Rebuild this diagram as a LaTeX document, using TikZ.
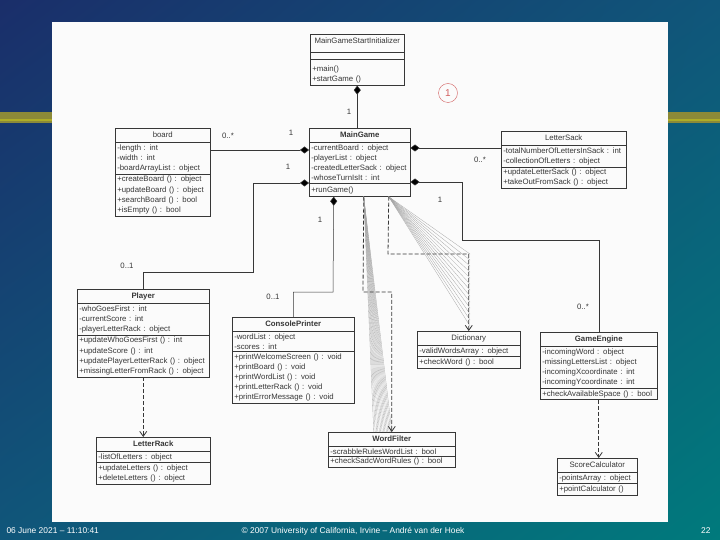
\documentclass[tikz,border=0pt]{standalone}
\usepackage{fontspec}
\setmainfont{Liberation Sans}
\usetikzlibrary{shapes.multipart,arrows.meta,shadings}
\definecolor{slidenavy}{RGB}{26,46,106}
\definecolor{slidemid}{RGB}{16,86,122}
\definecolor{slideteal}{RGB}{0,122,124}
\definecolor{barolive}{RGB}{140,138,56}
\definecolor{scanink}{RGB}{55,55,55}
\definecolor{scanpaper}{RGB}{251,251,251}
\definecolor{penred}{RGB}{210,95,95}
\newcommand\ttl[1]{\centering\rule[-3pt]{0pt}{10pt}#1\par}

\begin{document}
\begin{tikzpicture}[x=1pt,y=-1pt,
    every node/.style={font=\fontsize{7.8}{10.2}\selectfont,text=scanink},
    umlclass/.style={draw=scanink,line width=0.5pt,rectangle split,
      rectangle split parts=3,align=left,inner xsep=2pt,inner ysep=1.8pt,
      anchor=north west},
    wire/.style={draw=scanink,line width=0.5pt},
    comp/.style={wire,{Diamond[length=9pt,width=7pt]}-},
    dep/.style={wire,line width=0.8pt,dash pattern=on 4pt off 2pt,
      -{Straight Barb[length=5pt,width=7pt]}},
    hatch/.style={draw=gray!70,line width=0.3pt},
    footer/.style={font=\fontsize{8.4}{9}\selectfont,text=white}]
  \useasboundingbox (0,0) rectangle (720,540);
  % slide background
  \shade[upper left=slidenavy,upper right=slidemid,lower left=slidemid,
    lower right=slideteal] (0,0) rectangle (720,540);
  \fill[barolive] (0,112) rectangle (720,123);
  \fill[barolive!70!yellow] (0,119) rectangle (720,121);
  \fill[scanpaper] (52,22) rectangle (668,522);

  % classes
  \node[umlclass,text width=90pt] (init) at (310,34)
    {\centering\rule[-7pt]{0pt}{14pt}MainGameStartInitializer\par
     \nodepart{two}\rule{0pt}{3pt}
     \nodepart{three}\rule{0pt}{10pt}+main()\\+startGame ()};
  \node[umlclass,text width=91pt] (board) at (115,128)
    {\ttl{board}\nodepart{two}-length : int\\-width : int\\-boardArrayList : object
     \nodepart{three}+createBoard () : object\\+updateBoard () : object\\
     +searchBoard () : bool\\+isEmpty () : bool};
  \node[umlclass,text width=97pt] (game) at (309,128)
    {\ttl{\bfseries MainGame}\nodepart{two}-currentBoard : object\\-playerList : object\\
     -createdLetterSack : object\\-whoseTurnIsIt : int
     \nodepart{three}\rule{0pt}{8pt}+runGame()};
  \node[umlclass,text width=121pt] (sack) at (501,131)
    {\ttl{LetterSack}\nodepart{two}-totalNumberOfLettersInSack : int\\
     -collectionOfLetters : object
     \nodepart{three}+updateLetterSack () : object\\+takeOutFromSack () : object};
  \node[umlclass,text width=128pt] (player) at (77,289)
    {\ttl{\bfseries Player}\nodepart{two}-whoGoesFirst : int\\-currentScore : int\\
     -playerLetterRack : object
     \nodepart{three}+updateWhoGoesFirst () : int\\+updateScore () : int\\
     +updatePlayerLetterRack () : object\\+missingLetterFromRack () : object};
  \node[umlclass,text width=118pt] (printer) at (232,317)
    {\ttl{\bfseries ConsolePrinter}\nodepart{two}-wordList : object\\-scores : int
     \nodepart{three}+printWelcomeScreen () : void\\+printBoard () : void\\
     +printWordList () : void\\+printLetterRack () : void\\+printErrorMessage () : void};
  \node[umlclass,text width=99pt] (dict) at (417,331)
    {\ttl{Dictionary}\nodepart{two}-validWordsArray : object
     \nodepart{three}+checkWord () : bool};
  \node[umlclass,text width=113pt] (engine) at (540,332)
    {\ttl{\bfseries GameEngine}\nodepart{two}-incomingWord : object\\
     -missingLettersList : object\\-incomingXcoordinate : int\\-incomingYcoordinate : int
     \nodepart{three}+checkAvailableSpace () : bool};
  \node[umlclass,text width=110pt] (rack) at (96,437)
    {\ttl{\bfseries LetterRack}\nodepart{two}-listOfLetters : object
     \nodepart{three}+updateLetters () : object\\+deleteLetters () : object};
  \node[umlclass,text width=123pt] (filter) at (328,432)
    {\ttl{\bfseries WordFilter}\nodepart{two}-scrabbleRulesWordList : bool
     \nodepart{three}+checkSadcWordRules () : bool};
  \node[umlclass,text width=76pt] (score) at (557,458)
    {\ttl{ScoreCalculator}\nodepart{two}-pointsArray : object
     \nodepart{three}+pointCalculator ()};

  % associations
  \draw[comp] (init.south) -- (init.south |- game.north);
  \coordinate (gw1) at ([yshift=-22pt]game.north west);
  \coordinate (gw2) at ([yshift=-55pt]game.north west);
  \coordinate (ge1) at ([yshift=-20pt]game.north east);
  \coordinate (ge2) at ([yshift=-54pt]game.north east);
  \coordinate (gs1) at ([xshift=-26pt]game.south);
  \coordinate (gs2) at ([xshift=4pt]game.south);
  \coordinate (gs3) at ([xshift=29pt]game.south);
  \draw[comp] (gw1) -- (gw1 -| board.east);
  \draw[comp] (gw2) -| (253,272) -| (player.north);
  \draw[comp] (ge1) -- (ge1 -| sack.west);
  \draw[comp] (ge2) -| (462,240) -| (engine.north);
  \draw[comp] (gs1) -- (333,292) -| (printer.north);
  % dependencies, with the scanner's smear of lines
  \foreach \k in {0,...,13}
    \draw[hatch] (gs2) -- ([xshift={-18pt+1.4pt*\k}]filter.north);
  \foreach \k in {0,...,12}
    \draw[hatch] (gs3) -- (470,{254+6*\k});
  \draw[dep] (gs2) -- (363,292) -| (filter.north);
  \draw[dep] (gs3) -- (388,254) -| (dict.north);
  \draw[dep] (player.south) -- (player.south |- rack.north);
  \draw[dep] (engine.south) -- (engine.south |- score.north);

  % multiplicities
  \node (m1) at (349,112) {1};
  \node (m2) at (228,136) {0..*};
  \node (m3) at (291,133) {1};
  \node (m4) at (288,167) {1};
  \node (m5) at (480,160) {0..*};
  \node (m6) at (440,200) {1};
  \node (m7) at (127,266) {0..1};
  \node (m8) at (273,297) {0..1};
  \node (m9) at (583,307) {0..*};
  \node (m10) at (320,220) {1};
  \node[draw=penred,circle,minimum size=19pt,inner sep=0pt,text=penred,
    font=\fontsize{10}{10}\selectfont] (tag) at (448,93) {1};

  % footer
  \node[footer,anchor=west] (date) at (3,531) {06 June 2021 – 11:10:41};
  \node[footer] (copy) at (353,531)
    {© 2007 University of California, Irvine – André van der Hoek};
  \node[footer,anchor=east] (page) at (714,531) {22};
\end{tikzpicture}
\end{document}
